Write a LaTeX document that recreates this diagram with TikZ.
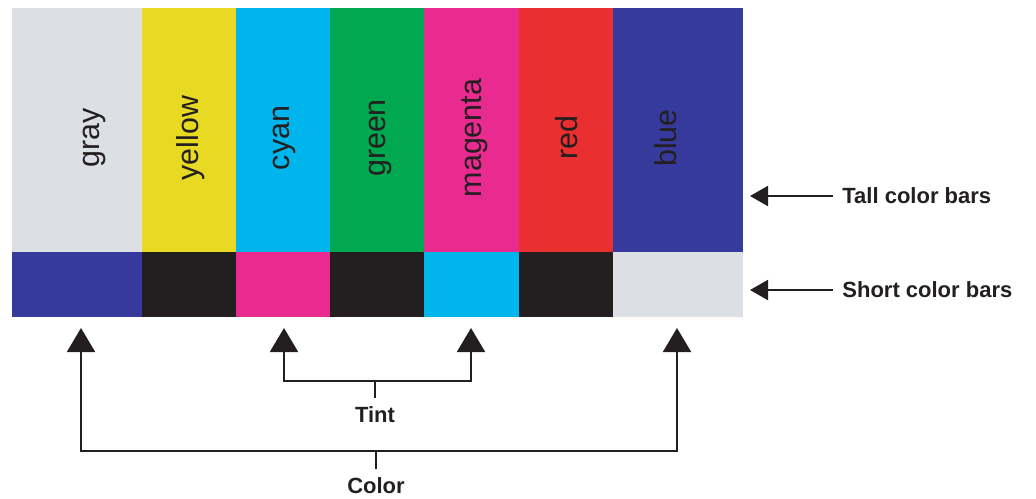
\documentclass[tikz,border=0pt]{standalone}
\usepackage{fontspec}
\setmainfont{Liberation Sans}
\usetikzlibrary{arrows.meta}

\definecolor{barGray}{HTML}{DCDFE3}
\definecolor{barYellow}{HTML}{E8DA22}
\definecolor{barCyan}{HTML}{00B5EC}
\definecolor{barGreen}{HTML}{00A84F}
\definecolor{barMagenta}{HTML}{E92A8E}
\definecolor{barRed}{HTML}{E92F2F}
\definecolor{barBlue}{HTML}{353A9C}
\definecolor{barBlack}{HTML}{231F20}

\tikzset{
  barlabel/.style={rotate=90, text=barBlack, font=\fontsize{15.2}{18}\selectfont},
  sidelabel/.style={text=barBlack, inner sep=4.5pt, font=\fontsize{11}{13}\selectfont\bfseries},
  uparrow/.style={draw=barBlack, line width=1pt, -{Triangle[length=12pt,width=14pt]}},
  sidearrow/.style={draw=barBlack, line width=1pt, -{Triangle[length=9pt,width=10pt]}},
  bracket/.style={draw=barBlack, line width=1pt}
}

\begin{document}
\begin{tikzpicture}[x=0.5pt, y=-0.5pt]
            \useasboundingbox (0,0) rectangle (1036,498);
            % tall bars
            \foreach \xa/\xb/\c in {12/142/barGray, 142/236/barYellow, 236/330/barCyan,
                330/424/barGreen, 424/519/barMagenta, 519/613/barRed, 613/743/barBlue}
              \fill[\c] (\xa,8) rectangle (\xb,252);
            % short bars
            \foreach \xa/\xb/\c in {12/142/barBlue, 142/236/barBlack, 236/330/barMagenta,
                330/424/barBlack, 424/519/barCyan, 519/613/barBlack, 613/743/barGray}
              \fill[\c] (\xa,252) rectangle (\xb,317);
            \node[barlabel] (gray) at (94,138) {gray};
            \node[barlabel] (yellow) at (191,138) {yellow};
            \node[barlabel] (cyan) at (284,138) {cyan};
            \node[barlabel] (green) at (380,138) {green};
            \node[barlabel] (magenta) at (475,138) {magenta};
            \node[barlabel] (red) at (567,138) {red};
            \node[barlabel] (blue) at (666,138) {blue};
            % side labels
            \node[sidelabel, anchor=west] (tall) at (833,196) {Tall color bars};
            \node[sidelabel, anchor=west] (short) at (833,290) {Short color bars};
            \coordinate (talltip) at (750,196);
            \coordinate (shorttip) at (750,290);
            \draw[sidearrow] (tall.west) -- (talltip);
            \draw[sidearrow] (short.west) -- (shorttip);
            % tint and color brackets
            \node[sidelabel] (tint) at (375,415) {Tint};
            \node[sidelabel] (color) at (376,486) {Color};
            \coordinate (tintjoin) at (375,381);
            \coordinate (colorjoin) at (376,451);
            \coordinate (cyantip) at (284,328);
            \coordinate (magentatip) at (471,328);
            \coordinate (graytip) at (81,328);
            \coordinate (bluetip) at (677,328);
            \draw[bracket] (tint.north) -- (tintjoin);
            \draw[uparrow] (tintjoin) -| (cyantip);
            \draw[uparrow] (tintjoin) -| (magentatip);
            \draw[bracket] (color.north) -- (colorjoin);
            \draw[uparrow] (colorjoin) -| (graytip);
            \draw[uparrow] (colorjoin) -| (bluetip);
        \end{tikzpicture}
\end{document}
